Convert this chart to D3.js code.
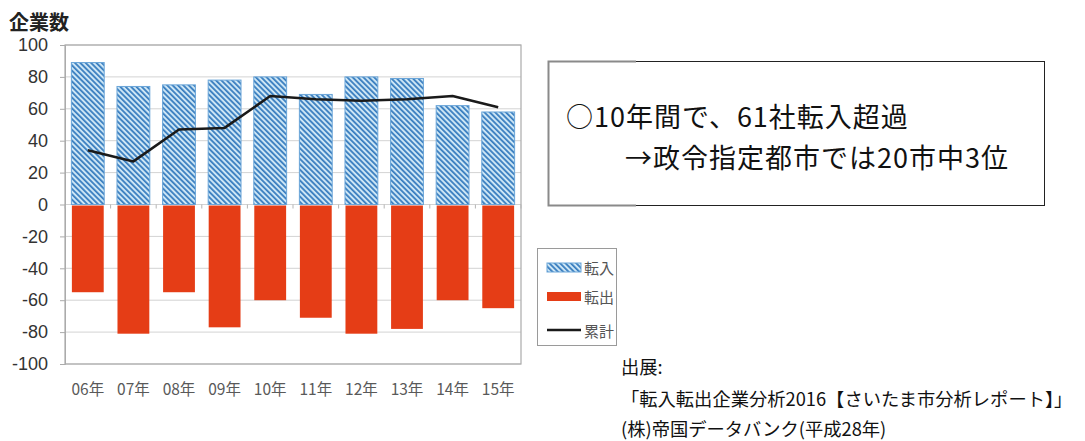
<!DOCTYPE html>
<html>
<head>
<meta charset="utf-8">
<script src="https://cdn.jsdelivr.net/npm/d3@7"></script>
<style>
  html, body { margin: 0; padding: 0; background: #fff; }
  svg { display: block; font-family: "Noto Sans CJK JP", "Noto Sans", sans-serif; }
</style>
</head>
<body>
<svg id="chart" width="1085" height="441"></svg>
<script>
// Companies moving in / out per year and the running net total
const years = ["06年", "07年", "08年", "09年", "10年", "11年", "12年", "13年", "14年", "15年"];
const inflow = [89, 74, 75, 78, 80, 69, 80, 79, 62, 58];
const outflow = [-55, -81, -55, -77, -60, -71, -81, -78, -60, -65];
const cumulative = [34, 27, 47, 48, 68, 66, 65, 66, 68, 61];
const yTicks = [100, 80, 60, 40, 20, 0, -20, -40, -60, -80, -100];

const legendLabels = ["転入", "転出", "累計"];
const noteLines = ["○10年間で、61社転入超過", "→政令指定都市では20市中3位"];
const sourceLines = ["出展:", "「転入転出企業分析2016【さいたま市分析レポート】」", "(株)帝国データバンク(平成28年)"];

const svg = d3.select("#chart");
const plot = { left: 65, right: 521, top: 45, bottom: 364 };

// Diagonal hatch used for the inflow bars
const defs = svg.append("defs");
const pat = defs.append("pattern")
  .attr("id", "hatch")
  .attr("patternUnits", "userSpaceOnUse")
  .attr("width", 3.8).attr("height", 3.8)
  .attr("patternTransform", "rotate(-45)");
pat.append("rect").attr("width", 3.8).attr("height", 3.8).attr("fill", "#cde6f5");
pat.append("rect").attr("width", 1.8).attr("height", 3.8).attr("fill", "#3a7ec0");

const x = d3.scaleBand().domain(years).range([plot.left, plot.right])
  .paddingInner(0.28).paddingOuter(0.14);
const y = d3.scaleLinear().domain([-100, 100]).range([plot.bottom, plot.top]);

// Grid lines
svg.append("g").selectAll("line").data(yTicks).join("line")
  .attr("x1", plot.left).attr("x2", plot.right)
  .attr("y1", d => y(d)).attr("y2", d => y(d))
  .attr("stroke", "#d3d3d3").attr("stroke-width", 1);

// Frame
svg.append("rect")
  .attr("x", plot.left).attr("y", plot.top)
  .attr("width", plot.right - plot.left).attr("height", plot.bottom - plot.top)
  .attr("fill", "none").attr("stroke", "#ababab").attr("stroke-width", 1.2);

// Y axis labels and ticks (plain hyphen for negatives)
const yAxis = d3.axisLeft(y).tickValues(yTicks).tickSize(5).tickPadding(8)
  .tickFormat(d => String(d));
const gy = svg.append("g").attr("transform", `translate(${plot.left},0)`).call(yAxis);
gy.select(".domain").attr("stroke", "#ababab");
gy.selectAll(".tick line").attr("stroke", "#ababab");
gy.selectAll(".tick text")
  .attr("font-family", "Liberation Sans, Arial, sans-serif")
  .attr("font-size", 18).attr("fill", "#333").attr("x", -17);

// Inflow bars (hatched)
svg.append("g").selectAll("rect").data(inflow).join("rect")
  .attr("x", (d, i) => x(years[i]))
  .attr("y", d => y(d))
  .attr("width", x.bandwidth())
  .attr("height", d => y(0) - y(d))
  .attr("fill", "url(#hatch)")
  .attr("stroke", "#6aa5d8").attr("stroke-width", 1);

// Outflow bars (solid red)
svg.append("g").selectAll("rect").data(outflow).join("rect")
  .attr("x", (d, i) => x(years[i]) + 0.5)
  .attr("y", y(0) + 1)
  .attr("width", x.bandwidth() - 1)
  .attr("height", d => y(d) - y(0) - 1)
  .attr("fill", "#e53d16");

// Zero axis with small ticks between categories
const step = x.step();
svg.append("g").selectAll("line").data(d3.range(years.length + 1)).join("line")
  .attr("x1", i => plot.left + i * step).attr("x2", i => plot.left + i * step)
  .attr("y1", y(0)).attr("y2", y(0) + 4)
  .attr("stroke", "#b5b5b5");

// Cumulative line
const line = d3.line()
  .x((d, i) => x(years[i]) + x.bandwidth() / 2)
  .y(d => y(d));
svg.append("path").datum(cumulative)
  .attr("d", line)
  .attr("fill", "none").attr("stroke", "#1a1a1a").attr("stroke-width", 2.6)
  .attr("stroke-linejoin", "round");

// Category labels
svg.append("g").selectAll("text").data(years).join("text")
  .attr("x", d => x(d) + x.bandwidth() / 2)
  .attr("y", 388)
  .attr("text-anchor", "middle").attr("dominant-baseline", "central")
  .attr("font-size", 15.5).attr("fill", "#595959")
  .text(d => d);

// Axis title
svg.append("text").attr("x", 9).attr("y", 21)
  .attr("dominant-baseline", "central")
  .attr("font-size", 20).attr("font-weight", "bold").attr("fill", "#222")
  .text("企業数");

// Legend
const lg = svg.append("g");
lg.append("rect").attr("x", 537.5).attr("y", 248.5).attr("width", 79).attr("height", 97)
  .attr("fill", "#fff").attr("stroke", "#9a9a9a").attr("stroke-width", 1);
lg.append("rect").attr("x", 547).attr("y", 263).attr("width", 34).attr("height", 9)
  .attr("fill", "url(#hatch)").attr("stroke", "#6aa5d8");
lg.append("rect").attr("x", 547).attr("y", 292).attr("width", 34).attr("height", 9)
  .attr("fill", "#e53d16");
lg.append("line").attr("x1", 547).attr("x2", 581).attr("y1", 330).attr("y2", 330)
  .attr("stroke", "#1a1a1a").attr("stroke-width", 2.6);
lg.selectAll("text").data(legendLabels).join("text")
  .attr("x", 584).attr("y", (d, i) => [267, 296, 330][i])
  .attr("dominant-baseline", "central")
  .attr("font-size", 15).attr("fill", "#555")
  .text(d => d);

// Note box
const nb = svg.append("g");
nb.append("rect").attr("x", 548.5).attr("y", 61.5).attr("width", 496).attr("height", 144)
  .attr("fill", "#fff").attr("stroke", "#222").attr("stroke-width", 1);
nb.append("path").attr("d", "M636,61.5 H548.5 V205.5 H636")
  .attr("fill", "none").attr("stroke", "#8a8a8a").attr("stroke-width", 2);
nb.selectAll("text").data(noteLines).join("text")
  .attr("x", (d, i) => i === 0 ? 566 : 625)
  .attr("y", (d, i) => i === 0 ? 115 : 156)
  .attr("dominant-baseline", "central")
  .attr("font-size", 27).attr("letter-spacing", 1).attr("fill", "#111")
  .text(d => d);

// Source
svg.append("g").selectAll("text").data(sourceLines).join("text")
  .attr("x", 621)
  .attr("y", (d, i) => [366, 398, 428][i])
  .attr("dominant-baseline", "central")
  .attr("font-size", 18.3).attr("fill", "#111")
  .text(d => d);
</script>
</body>
</html>
